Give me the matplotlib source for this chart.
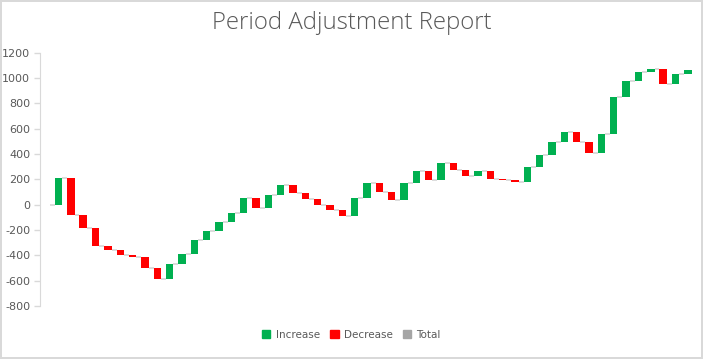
import numpy as np
import matplotlib.pyplot as plt
from matplotlib.patches import Patch

# change per period (first period is the zero start)
changes = [0, 210, -295, -103, -140, -30, -40, -14, -91, -80, 111, 80, 110, 74, 68, 74,
           116, -80, 110, 78, -63, -50, -45, -45, -45, 140, 118, -68, -60, 128, 97, -68,
           129, -54, -48, 44, -63, -13, -16, 118, 96, 107, 79, -81, -83, 143, 293, 125,
           72, 27, -116, 72, 38]
periods = list(range(1, len(changes) + 1))
yticks = list(range(-800, 1201, 200))

inc_color = '#00b050'
dec_color = '#ff0000'
tot_color = '#a5a5a5'
text_color = '#595959'

plt.rcParams['axes.unicode_minus'] = False

ends = np.cumsum(changes)
starts = ends - np.array(changes)
x = np.arange(len(changes))
width = 0.6

fig = plt.figure(figsize=(7.03, 3.59), dpi=100)
fig.patch.set_edgecolor('#d9d9d9')
fig.patch.set_linewidth(1.5)
ax = fig.add_axes([40 / 703, 1 - 306 / 359, 654 / 703, (306 - 52.7) / 359])

colors = [inc_color if c >= 0 else dec_color for c in changes]
ax.bar(x, changes, bottom=starts, width=width, color=colors, zorder=3)

# connector lines between bars
for i in range(len(changes) - 1):
    ax.plot([x[i] + width / 2, x[i + 1] - width / 2], [ends[i], ends[i]],
            color='#d9d9d9', lw=1.3, zorder=2, solid_capstyle='butt')

ax.set_xlim(-0.5, len(changes) - 0.5)
ax.set_ylim(-800, 1200)
ax.set_yticks(yticks)
ax.set_xticks([])
for s in ['top', 'right', 'bottom']:
    ax.spines[s].set_visible(False)
ax.spines['left'].set_color('#d9d9d9')
ax.tick_params(axis='y', colors='#d9d9d9', labelcolor=text_color, labelsize=8,
               length=4, width=1, pad=3)

fig.text(0.5, 0.937, 'Period Adjustment Report', ha='center', va='center',
         fontsize=17.3, color=text_color, family='Open Sans', weight='light')

handles = [Patch(color=inc_color, label='Increase'),
           Patch(color=dec_color, label='Decrease'),
           Patch(color=tot_color, label='Total')]
fig.legend(handles=handles, loc='center', bbox_to_anchor=(0.5, 1 - 335 / 359), ncol=3,
           frameon=False, fontsize=7.5, labelcolor=text_color, handlelength=0.8,
           handleheight=0.8, handletextpad=0.5, columnspacing=1.0)

plt.savefig('out.png', dpi=100)
